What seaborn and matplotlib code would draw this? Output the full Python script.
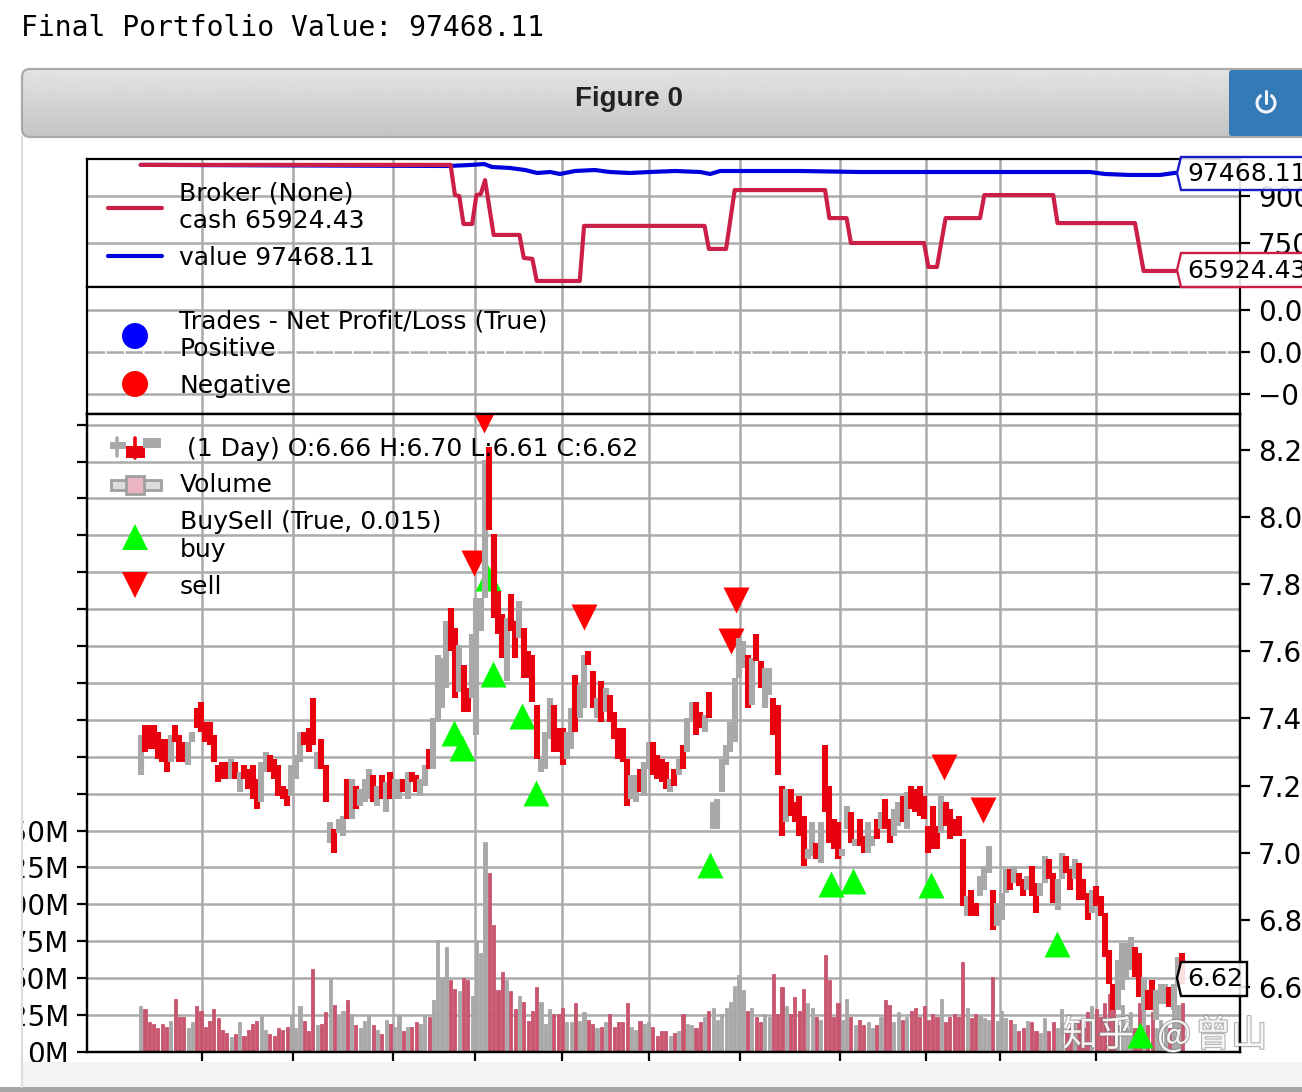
import numpy as np
import pandas as pd
import matplotlib
matplotlib.use('Agg')
import matplotlib.pyplot as plt
import matplotlib.patheffects as pe
from matplotlib.patches import Arc, Circle, FancyBboxPatch, Polygon, Rectangle
import seaborn as sns

# price bars
highs = [7.35, 7.38, 7.38, 7.38, 7.36, 7.34, 7.34, 7.35, 7.38, 7.35,
         7.33, 7.33, 7.36, 7.43, 7.45, 7.39, 7.39, 7.35, 7.26, 7.27,
         7.27, 7.28, 7.27, 7.24, 7.26, 7.25, 7.26, 7.22, 7.27, 7.30,
         7.29, 7.28, 7.26, 7.20, 7.19, 7.26, 7.29, 7.36, 7.36, 7.37,
         7.46, 7.30, 7.34, 7.26, 7.09, 7.07, 7.10, 7.11, 7.22, 7.22,
         7.20, 7.19, 7.22, 7.25, 7.23, 7.20, 7.23, 7.21, 7.24, 7.22,
         7.22, 7.22, 7.24, 7.24, 7.23, 7.22, 7.26, 7.31, 7.40, 7.59,
         7.58, 7.69, 7.73, 7.67, 7.62, 7.56, 7.49, 7.65, 7.76, 7.76,
         8.17, 8.21, 7.95, 7.78, 7.71, 7.70, 7.77, 7.69, 7.75, 7.67,
         7.60, 7.59, 7.44, 7.28, 7.36, 7.46, 7.44, 7.37, 7.37, 7.36,
         7.43, 7.53, 7.50, 7.59, 7.60, 7.54, 7.46, 7.51, 7.49, 7.47,
         7.42, 7.37, 7.37, 7.28, 7.23, 7.23, 7.25, 7.27, 7.33, 7.33,
         7.29, 7.28, 7.27, 7.22, 7.25, 7.28, 7.32, 7.40, 7.45, 7.45,
         7.42, 7.41, 7.48, 7.15, 7.16, 7.28, 7.32, 7.39, 7.52, 7.64,
         7.63, 7.59, 7.58, 7.65, 7.57, 7.55, 7.55, 7.46, 7.44, 7.20,
         7.19, 7.19, 7.15, 7.17, 7.11, 7.01, 7.09, 7.03, 7.09, 7.32,
         7.20, 7.10, 7.09, 7.01, 7.14, 7.12, 7.04, 7.10, 7.05, 7.09,
         7.05, 7.10, 7.12, 7.16, 7.10, 7.13, 7.15, 7.17, 7.18, 7.20,
         7.19, 7.20, 7.17, 7.08, 7.14, 7.08, 7.17, 7.15, 7.13, 7.10,
         7.11, 7.04, 6.87, 6.89, 6.85, 6.93, 6.96, 7.02, 6.89, 6.85,
         6.88, 6.95, 6.95, 6.96, 6.94, 6.92, 6.93, 6.96, 6.91, 6.91,
         6.99, 6.98, 6.94, 6.92, 7.00, 6.99, 6.95, 6.98, 6.97, 6.92,
         6.88, 6.89, 6.90, 6.87, 6.82, 6.71, 6.61, 6.68, 6.73, 6.73,
         6.75, 6.72, 6.70, 6.63, 6.59, 6.62, 6.59, 6.61, 6.61, 6.60,
         6.61, 6.69, 6.70]
lows = [7.23, 7.30, 7.31, 7.31, 7.28, 7.27, 7.24, 7.27, 7.33, 7.27,
        7.27, 7.26, 7.33, 7.37, 7.36, 7.33, 7.32, 7.27, 7.21, 7.22,
        7.22, 7.22, 7.22, 7.18, 7.22, 7.19, 7.16, 7.13, 7.15, 7.24,
        7.24, 7.22, 7.17, 7.16, 7.14, 7.17, 7.22, 7.27, 7.32, 7.30,
        7.32, 7.25, 7.25, 7.15, 7.03, 7.00, 7.06, 7.05, 7.10, 7.10,
        7.13, 7.14, 7.15, 7.16, 7.15, 7.14, 7.16, 7.12, 7.16, 7.16,
        7.16, 7.18, 7.16, 7.21, 7.18, 7.17, 7.20, 7.25, 7.25, 7.39,
        7.43, 7.49, 7.60, 7.46, 7.48, 7.42, 7.42, 7.46, 7.35, 7.66,
        7.76, 7.96, 7.70, 7.65, 7.58, 7.51, 7.66, 7.58, 7.64, 7.52,
        7.52, 7.45, 7.28, 7.24, 7.25, 7.34, 7.30, 7.30, 7.26, 7.28,
        7.31, 7.36, 7.40, 7.43, 7.56, 7.43, 7.40, 7.39, 7.42, 7.39,
        7.34, 7.28, 7.27, 7.14, 7.16, 7.15, 7.18, 7.17, 7.25, 7.23,
        7.22, 7.21, 7.19, 7.18, 7.20, 7.23, 7.25, 7.30, 7.39, 7.35,
        7.37, 7.36, 7.40, 7.07, 7.07, 7.18, 7.26, 7.30, 7.33, 7.52,
        7.55, 7.43, 7.44, 7.57, 7.49, 7.43, 7.47, 7.35, 7.23, 7.05,
        7.09, 7.11, 7.09, 7.05, 6.96, 6.98, 6.99, 6.98, 6.97, 7.12,
        7.03, 7.01, 6.98, 6.99, 7.07, 7.03, 7.02, 7.02, 7.00, 7.00,
        7.02, 7.04, 7.07, 7.07, 7.03, 7.05, 7.08, 7.09, 7.07, 7.13,
        7.12, 7.11, 7.10, 7.00, 7.01, 7.01, 7.06, 7.08, 7.04, 7.05,
        7.05, 6.84, 6.81, 6.81, 6.81, 6.87, 6.89, 6.94, 6.77, 6.78,
        6.80, 6.88, 6.89, 6.91, 6.90, 6.87, 6.89, 6.87, 6.82, 6.87,
        6.91, 6.92, 6.85, 6.83, 6.92, 6.94, 6.89, 6.92, 6.86, 6.86,
        6.80, 6.82, 6.84, 6.81, 6.69, 6.61, 6.53, 6.53, 6.59, 6.62,
        6.65, 6.63, 6.57, 6.53, 6.53, 6.53, 6.50, 6.55, 6.55, 6.54,
        6.53, 6.60, 6.61]
direction = """u d d d d d d u d d  d u u d d d d d d d  d u d u d d d d u u
d d d d d u u u d d  d u d d u d u u d u  d u u u d u d u d u
u d u d d u u d u u  u u d d u d d u u u  u d d d d u d d u d
d d d u u u d d d u  u d u u d d u d u d  d d d d u u d u u d
d d d u d u d u u d  d u d u u u u u u u  u d u d d u u d d d
u d d d d u u d u d  d d d u u d u d d u  u d u d d u u d u d
d d d d d d u d d d  d d u d d u u u d u  u u d u d d u d d u
u d d u u d d u d d  d u d d d d d u u u  u d d u d d u u u d
u u d""".split()
volumes = [31, 29, 20, 19, 16, 19, 17, 21, 36, 24, 24, 16, 20, 31, 28, 17, 21, 29, 23, 15,
           13, 10, 12, 20, 11, 15, 19, 21, 25, 15, 12, 11, 16, 15, 17, 25, 16, 31, 21, 14,
           56, 18, 19, 27, 50, 32, 25, 28, 35, 26, 18, 16, 21, 25, 18, 15, 12, 22, 19, 17,
           25, 14, 17, 17, 20, 19, 25, 24, 35, 76, 51, 71, 49, 43, 41, 50, 49, 38, 75, 67,
           142, 121, 86, 42, 54, 49, 41, 29, 38, 34, 21, 28, 44, 34, 19, 29, 26, 26, 30, 20,
           20, 33, 21, 27, 22, 19, 16, 17, 20, 26, 17, 20, 20, 33, 17, 15, 21, 19, 20, 17,
           11, 14, 14, 11, 13, 14, 26, 19, 18, 16, 20, 24, 28, 30, 22, 26, 30, 34, 45, 52,
           42, 28, 30, 24, 20, 26, 24, 53, 26, 44, 31, 26, 37, 28, 43, 33, 30, 24, 22, 66,
           49, 24, 33, 22, 36, 24, 18, 22, 18, 20, 16, 18, 24, 35, 32, 20, 27, 22, 24, 28,
           30, 24, 31, 22, 26, 24, 36, 20, 24, 26, 24, 61, 30, 23, 26, 25, 23, 22, 51, 21,
           28, 23, 22, 19, 14, 16, 21, 20, 14, 13, 23, 14, 20, 16, 29, 14, 16, 20, 22, 16,
           27, 31, 29, 24, 33, 39, 32, 18, 32, 16, 27, 16, 33, 33, 18, 27, 16, 22, 18, 16,
           32, 32, 33]

# buy and sell signals
buy_x = [72.8, 74.7, 80.7, 81.9, 88.6, 91.8, 132.3, 160.4, 165.5, 183.6, 212.9, 232.2]
buy_y = [7.357, 7.312, 7.819, 7.533, 7.407, 7.178, 6.963, 6.907, 6.916, 6.904, 6.728, 6.457]
sell_x = [79.8, 77.4, 103.0, 138.3, 137.2, 186.6, 195.7]
sell_y = [8.289, 7.863, 7.702, 7.753, 7.631, 7.255, 7.127]

# broker panel
cash_x = [0, 72, 73, 74, 75, 77, 78, 79, 80, 82, 88, 89, 91, 92, 102, 103, 131, 132, 136, 138,
          159, 160, 164, 165, 182, 183, 185, 187, 195, 196, 212, 213, 231, 233, 240.5]
cash = [100000, 100000, 90300, 90000, 81000, 81000, 90300, 90600, 95100, 77500, 77500, 70100,
        69800, 62700, 62700, 80400, 80400, 73000, 73000, 91900, 91900, 82900, 82900, 74900,
        74900, 67200, 67200, 82900, 82900, 90300, 90300, 81300, 81300, 65924, 65924]
value_x = [0, 71.6, 76.5, 79.8, 81.6, 85.8, 89.3, 92.1, 95.1, 97.4, 100.9, 105.5, 109, 113.7,
           118.3, 124.1, 130, 132.3, 134.6, 139.2, 153.2, 167.1, 181.1, 195, 208.9, 220.5,
           224, 229.8, 236.8, 240.5]
value = [100000, 99640, 99960, 100280, 99320, 99000, 98350, 97390, 97710, 97070, 98030, 98350,
         97710, 97390, 97710, 98030, 97710, 97070, 98030, 98030, 98030, 97710, 97710, 97710,
         97710, 97710, 97070, 96750, 96750, 97468]

# ticks
x_ticks = [14.2, 35.4, 58.6, 77.7, 97.9, 118.1, 139.2, 162.5, 182.5, 199.6, 221.9]
price_ticks = [6.6, 6.8, 7.0, 7.2, 7.4, 7.6, 7.8, 8.0, 8.2]
broker_ticks = [75000, 90000]
trade_ticks = [-0.02, 0.0, 0.02]
vol_ticks = list(range(0, 450, 25))

GRID = '#aaaaaa'
CASH = '#cc1f47'
VALUE = '#0000dd'
RED = '#e8000f'
TICK_SIZE = 20
sns.set_theme(style='whitegrid', rc={'axes.edgecolor': 'black', 'axes.linewidth': 1.6,
                                     'grid.color': GRID, 'grid.linewidth': 1.8,
                                     'xtick.color': 'black', 'ytick.color': 'black',
                                     'font.size': 18})
plt.rcParams['font.family'] = ['DejaVu Sans']

W, H = 1302, 1092
fig = plt.figure(figsize=(W / 100, H / 100), dpi=100, facecolor='white')


def panel(top, bottom):
    return fig.add_axes([87 / W, 1 - bottom / H, (1240 - 87) / W, (bottom - top) / H])


bars = pd.DataFrame({'idx': np.arange(len(highs)), 'high': highs, 'low': lows,
                     'dir': direction, 'volume': volumes})
X_LIM = (-12.48, 255.4)

# ---- broker
ax_top = panel(159, 287)
value_df = pd.DataFrame({'x': value_x, 'y': value})
cash_df = pd.DataFrame({'x': cash_x, 'y': cash})
sns.lineplot(data=value_df, x='x', y='y', color=VALUE, linewidth=3.0, estimator=None, ax=ax_top)
sns.lineplot(data=cash_df, x='x', y='y', color=CASH, linewidth=3.0, estimator=None, ax=ax_top)
ax_top.set_ylim(60767, 101885)
ax_top.set_yticks(broker_ticks)

# ---- trades
ax_mid = panel(287, 414)
ax_mid.set_ylim(-0.0292, 0.0306)
ax_mid.set_yticks(trade_ticks)

# ---- price and volume
ax_price = panel(414, 1052)
ax_vol = ax_price.twinx()
ax_vol.xaxis.set_visible(True)
ax_vol.set_zorder(1)
ax_price.set_zorder(2)
ax_price.patch.set_visible(False)
ax_vol.patch.set_visible(True)
ax_vol.patch.set_facecolor('white')

sns.barplot(data=bars, x='idx', y='volume', hue='dir', palette={'u': '#a8a8a8', 'd': '#c9566f'},
            native_scale=True, dodge=False, width=0.72, saturation=1, legend=False,
            errorbar=None, ax=ax_vol)
for bar in ax_vol.patches:
    bar.set_edgecolor(bar.get_facecolor())
    bar.set_linewidth(0.6)
ax_vol.set_ylim(0, 432.2)
ax_vol.set_yticks(vol_ticks)
ax_vol.set_yticklabels([f'{v}M' if v <= 150 else '' for v in vol_ticks])
ax_vol.yaxis.tick_left()
ax_vol.set_axisbelow(True)
ax_vol.grid(True, axis='both')

sns.scatterplot(x=buy_x, y=buy_y, marker='^', s=350, color='#00ff00', linewidth=0, ax=ax_price, zorder=2)
sns.scatterplot(x=sell_x, y=sell_y, marker='v', s=350, color='#ff0000', linewidth=0, ax=ax_price, zorder=2)
ax_price.vlines(bars['idx'], bars['low'], bars['high'], lw=4.4, zorder=3,
                colors=['#a9a9a9' if d == 'u' else RED for d in direction])
ax_price.set_ylim(6.406, 8.307)
ax_price.set_yticks(price_ticks)
ax_price.set_yticklabels([f'{p:.1f}' for p in price_ticks])
ax_price.yaxis.tick_right()
ax_price.grid(False)

for ax in (ax_top, ax_mid, ax_price, ax_vol):
    ax.set_xlim(*X_LIM)
    ax.set_xticks(x_ticks)
    ax.set_xlabel('')
    ax.set_ylabel('')
    ax.tick_params(axis='y', length=7, width=1.6, labelsize=TICK_SIZE, pad=6)
    ax.tick_params(axis='x', labelbottom=False, bottom=False, length=0)
ax_vol.tick_params(axis='x', bottom=True, top=False, length=6.5, width=1.6)
for ax in (ax_top, ax_mid):
    ax.yaxis.tick_right()
    ax.grid(True, axis='both')
    ax.set_axisbelow(True)
ax_top.ticklabel_format(axis='y', style='plain')
ax_mid.get_ygridlines()[1].set_linestyle((0, (7, 0.6)))
ax_mid.set_yticklabels(['\u22120.02', '0.00', '0.02'])

# ---- everything around the plot, in screen pixels
page = fig.add_axes([0, 0, 1, 1], zorder=5)
page.patch.set_visible(False)
page.axis('off')

page.add_patch(Rectangle((0, 138), 22, 960, color='white', lw=0))
page.plot([22, 22], [137, 1087], color='#dddddd', lw=1.6)
page.add_patch(Rectangle((22, 1062), 1280, 25, color='#f4f4f4', lw=0))
page.add_patch(Rectangle((0, 1087), 1302, 5, color='#a6a6a6', lw=0))

header = FancyBboxPatch((28, 75), 1300, 56, boxstyle='round,pad=6,rounding_size=8',
                        fc='none', ec='#aaaaaa', lw=1.6)
page.add_patch(header)
shade = page.imshow(np.linspace(0.89, 0.77, 64)[:, None], cmap='gray', vmin=0, vmax=1,
                    extent=(22, 1334, 137, 69), aspect='auto', zorder=0.5)
shade.set_clip_path(header)
page.add_patch(FancyBboxPatch((1232, 73), 90, 60, boxstyle='round,pad=3,rounding_size=3',
                              fc='#337ab7', ec='none'))
page.add_patch(Arc((1266, 103), 18, 18, theta1=-60, theta2=240, color='#eef4fa', lw=2.2))
page.plot([1266, 1266], [91, 103], color='#eef4fa', lw=2.2, solid_capstyle='round')
page.text(629, 99, 'Figure 0', ha='center', va='center', fontsize=20, fontweight='bold',
          family='Liberation Sans', color='#222222')
page.text(21, 28, 'Final Portfolio Value: 97468.11', ha='left', va='center', fontsize=20.2,
          family='DejaVu Sans Mono', color='black')


def label(x, y, s):
    page.text(x, y + 2, s, ha='left', va='center', fontsize=18, color='black')


# legends
page.plot([108, 162], [208, 208], color=CASH, lw=3.0)
page.plot([108, 162], [256, 256], color=VALUE, lw=3.0)
label(179, 192, 'Broker (None)')
label(179, 219, 'cash 65924.43')
label(179, 256, 'value 97468.11')

page.add_patch(Circle((135, 336), 13, color='#0000ff', lw=0))
page.add_patch(Circle((135, 384), 13, color='#ff0000', lw=0))
label(179, 320, 'Trades - Net Profit/Loss (True)')
label(180, 347, 'Positive')
label(180, 384, 'Negative')

page.add_patch(Rectangle((110, 442), 16, 7, color='#a9a9a9', lw=0))
page.plot([117, 117], [438, 456], color='#a9a9a9', lw=2.6)
page.add_patch(Rectangle((126, 446), 19, 12, color=RED, lw=0))
page.plot([135, 135], [438, 458], color=RED, lw=2.6)
page.add_patch(Rectangle((143, 438), 18, 10, color='#a9a9a9', lw=0))
label(187, 447, '(1 Day) O:6.66 H:6.70 L:6.61 C:6.62')

page.add_patch(Rectangle((111, 480), 50, 10, fc='#dddddd', ec='#a0a0a0', lw=2))
page.add_patch(Rectangle((126, 476), 18, 18, fc='#eab4c0', ec='#a0a0a0', lw=2))
label(180, 483, 'Volume')
label(180, 520, 'BuySell (True, 0.015)')
label(180, 548, 'buy')
label(180, 585, 'sell')
page.add_patch(Polygon([(135, 524), (122, 550), (148, 550)], color='#00ff00', lw=0))
page.add_patch(Polygon([(135, 598), (122, 572), (148, 572)], color='#ff0000', lw=0))

# last value tags
for y, top, bottom, txt, col, right in [(173, 157, 190, '97468.11', '#1a1ac8', 1320),
                                        (270, 253, 287, '65924.43', CASH, 1320),
                                        (978, 962, 996, '6.62', 'black', 1247)]:
    page.add_patch(Polygon([(1177, y), (1181, top), (right, top), (right, bottom), (1181, bottom)],
                           fc=(1, 1, 1, 0.88), ec=col, lw=1.7, joinstyle='miter'))
    label(1187, y - 1, txt)

# watermark
for x, s in [(1062, '知乎'), (1157, '@'), (1195, '曾山')]:
    page.text(x, 1036, s, ha='left', va='center', fontsize=26, family='Noto Sans CJK SC',
              color=(1, 1, 1, 0.85),
              path_effects=[pe.withStroke(linewidth=1.6, foreground=(0.45, 0.45, 0.45, 0.55))])

page.set_xlim(0, W)
page.set_ylim(H, 0)

fig.savefig('out.png', dpi=100)
